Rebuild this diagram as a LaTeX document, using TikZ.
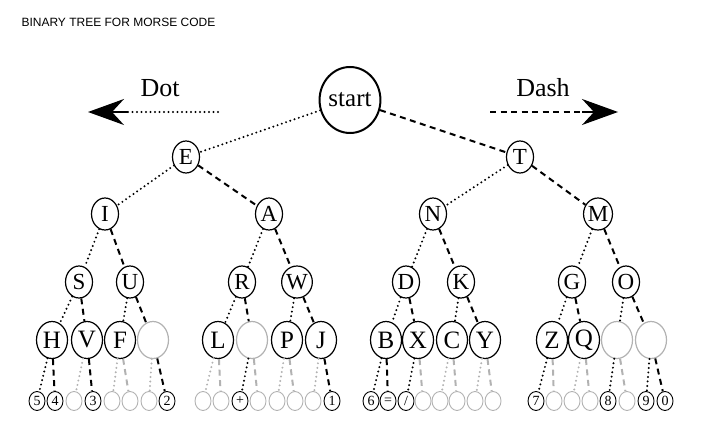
\documentclass[tikz,border=0pt]{standalone}
\usepackage{fontspec}
\setmainfont{Liberation Serif}
\newfontfamily\ttl{Liberation Sans}
\usetikzlibrary{shapes.geometric,arrows.meta}
\begin{document}
\begin{tikzpicture}[x=1pt,y=-1pt,
  nd/.style={ellipse,draw,line width=1.2pt,inner sep=0pt,minimum width=#1},
  l2/.style={nd=27pt,minimum height=32pt,font=\fontsize{23}{23}\selectfont},
  l5/.style={nd=31pt,minimum height=37pt,font=\fontsize{25}{25}\selectfont},
  l6/.style={nd=16pt,minimum height=19pt,font=\fontsize{14}{14}\selectfont,line width=0.9pt},
  mdot/.style={line width=2.2pt,dash pattern=on 0pt off 4.5pt,line cap=round},
  mdash/.style={line width=2pt,dash pattern=on 6pt off 4.5pt}]
\useasboundingbox (0,0) rectangle (708,446);
\node[anchor=west,font=\ttl\fontsize{12}{12}\selectfont] (title) at (18,22) {BINARY TREE FOR MORSE CODE};
\node[ellipse,draw,line width=2pt,inner sep=0pt,minimum width=54pt,minimum height=66pt,font=\fontsize{25}{25}\selectfont] (start) at (350,100) {start};
\node[font=\fontsize{26}{26}\selectfont] (dotl) at (160,88) {Dot};
\node[font=\fontsize{26}{26}\selectfont] (dashl) at (543,88) {Dash};
\coordinate (dotA) at (218,112); \coordinate (dotB) at (88,112);
\coordinate (dashA) at (490,112); \coordinate (dashB) at (618,112);
\draw[mdot] (dotA) -- (125,112);
\draw[-{Stealth[length=36pt,width=26pt,inset=12pt]},line width=1.4pt] (128,112) -- (dotB);
\draw[mdash] (dashA) -- (583,112);
\draw[-{Stealth[length=36pt,width=26pt,inset=12pt]},line width=1.4pt] (582,112) -- (dashB);
% level 2-4
\foreach \n/\x/\y/\p/\s in {E/186/157/start/mdot,T/520/157/start/mdash,
  I/105/214/E/mdot,A/269/214/E/mdash,N/433/214/T/mdot,M/598/214/T/mdash,
  S/79/282/I/mdot,U/130/282/I/mdash,R/242/282/A/mdot,W/297/282/A/mdash,
  D/406/282/N/mdot,K/461/282/N/mdash,G/572/282/M/mdot,O/626/282/M/mdash}{
  \node[l2] (\n) at (\x,\y) {\n};
  \draw[\s] (\p) -- (\n);
}
% level 5
\foreach \n/\x/\t/\p/\s/\c in {H/52/H/S/mdot/black,V/87/V/S/mdash/black,F/120/F/U/mdot/black,b1/153//U/mdash/gray!60,
  L/218/L/R/mdot/black,b2/252//R/mdash/gray!60,P/287/P/W/mdot/black,J/321/J/W/mdash/black,
  B/386/B/D/mdot/black,X/418/X/D/mdash/black,C/452/C/K/mdot/black,Y/485/Y/K/mdash/black,
  Z/552/Z/G/mdot/black,Q/584/Q/G/mdash/black,b3/617//O/mdot/gray!60,b4/651//O/mdash/gray!60}{
  \node[l5,draw=\c] (\n) at (\x,340) {\t};
  \draw[\s] (\p) -- (\n);
}
% level 6
\foreach \i/\x/\t/\p/\s in {1/37/5/H/mdot,2/55/4/H/mdash,3/74//V/mdot,4/93/3/V/mdash,5/112//F/mdot,6/130//F/mdash,7/149//b1/mdot,8/167/2/b1/mdash,
  9/203//L/mdot,10/221//L/mdash,11/240/+/b2/mdot,12/258//b2/mdash,13/277//P/mdot,14/295//P/mdash,15/313//J/mdot,16/332/1/J/mdash,
  17/371/6/B/mdot,18/388/=/B/mdash,19/406/{/}/X/mdot,20/423//X/mdash,21/440//C/mdot,22/457//C/mdash,23/475//Y/mdot,24/493//Y/mdash,
  25/536/7/Z/mdot,26/554//Z/mdash,27/572//Q/mdot,28/590//Q/mdash,29/608/8/b3/mdot,30/627//b3/mdash,31/646/9/b4/mdot,32/665/0/b4/mdash}{
  \if\relax\detokenize\expandafter{\t}\relax
    \node[l6,draw=gray!60] (d\i) at (\x,401) {};
    \draw[\s,draw=gray!60] (\p) -- (d\i);
  \else
    \node[l6] (d\i) at (\x,401) {\t};
    \draw[\s] (\p) -- (d\i);
  \fi
}
\end{tikzpicture}
\end{document}
